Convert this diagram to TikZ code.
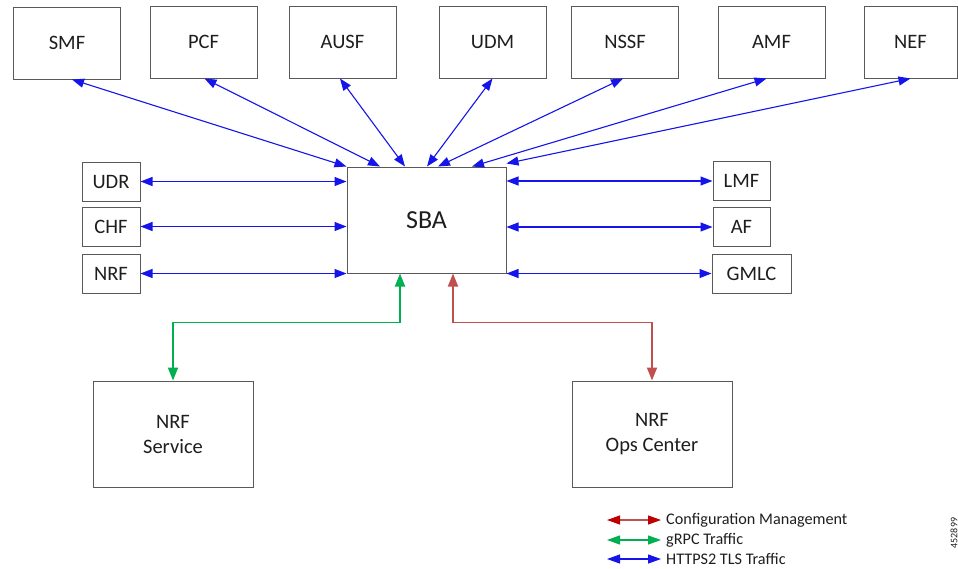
\documentclass[tikz,border=0pt]{standalone}
\usepackage{fontspec}
\setmainfont{Carlito}
\usetikzlibrary{arrows.meta}
\definecolor{boxline}{RGB}{89,89,89}
\definecolor{https}{RGB}{20,20,235}
\definecolor{grpc}{RGB}{0,176,80}
\definecolor{cfg}{RGB}{192,80,77}
\definecolor{cfgtip}{RGB}{192,0,0}
\definecolor{ink}{RGB}{30,30,30}

\begin{document}
\begin{tikzpicture}[x=1pt,y=-1pt,
  nf/.style={draw=boxline, line width=1pt, fill=white, inner sep=0pt,
    text=ink, font=\fontsize{20.5}{25}\selectfont, align=center},
  topnf/.style={nf, minimum width=107pt, minimum height=72pt},
  sidenf/.style={nf, minimum width=58pt, minimum height=39pt},
  bignf/.style={nf, minimum width=160pt, minimum height=106pt},
  httpsarrow/.style={draw=https, line width=1.1pt,
    {Triangle[length=12pt,width=9pt,fill=https]}-{Triangle[length=12pt,width=9pt,fill=https]}},
  grpcarrow/.style={draw=grpc, line width=1.8pt,
    {Triangle[length=13pt,width=10pt,fill=grpc]}-{Triangle[length=13pt,width=10pt,fill=grpc]}},
  cfgarrow/.style={draw=cfg, line width=1.8pt,
    {Triangle[length=13pt,width=10pt,fill=cfg]}-{Triangle[length=13pt,width=10pt,fill=cfg]}},
  legarrow/.style={line width=1.2pt},
  legtext/.style={anchor=west, inner sep=0pt, text=ink, font=\fontsize{16.2}{18}\selectfont}
]
\useasboundingbox (0,0) rectangle (958,568);

% network functions along the top
\node[topnf] (smf)  at (67,43)    {SMF};
\node[topnf] (pcf)  at (203.5,42) {PCF};
\node[topnf] (ausf) at (342.5,42) {AUSF};
\node[topnf] (udm)  at (492.5,42) {UDM};
\node[topnf] (nssf) at (625,42)   {NSSF};
\node[topnf] (amf)  at (771.5,42) {AMF};
\node[topnf, minimum width=93pt] (nef) at (910.5,42) {NEF};

% central service based architecture bus
\node[bignf, minimum width=159pt, font=\fontsize{26}{30}\selectfont] (sba) at (426.5,220) {SBA};

% functions on the left
\node[sidenf] (udr) at (111,181.5) {UDR};
\node[sidenf] (chf) at (111,226.5) {CHF};
\node[sidenf] (nrf) at (111,273.5) {NRF};

% functions on the right
\node[sidenf, minimum width=57pt] (lmf) at (741.5,181) {LMF};
\node[sidenf, minimum width=57pt] (af)  at (741.5,227) {AF};
\node[sidenf, minimum width=79pt] (gmlc) at (751.5,273.5) {GMLC};

% NRF components
\node[bignf] (svc) at (173,434) {NRF\\Service};
\node[bignf] (ops) at (652,434) {NRF\\Ops Center};

% HTTPS2 links from the top row
\draw[httpsarrow] ([xshift=5pt]smf.south)   -- (sba.north west);
\draw[httpsarrow] ([xshift=1pt]pcf.south)   -- ([xshift=-46.5pt]sba.north);
\draw[httpsarrow] ([xshift=-2.5pt]ausf.south) -- ([xshift=-21.5pt]sba.north);
\draw[httpsarrow] (udm.south)               -- ([xshift=0.5pt]sba.north);
\draw[httpsarrow] ([xshift=-2pt]nssf.south) -- ([xshift=11.5pt]sba.north);
\draw[httpsarrow] ([xshift=-5pt]amf.south)  -- ([xshift=45.5pt]sba.north);
\draw[httpsarrow] (nef.south)               -- ([yshift=3pt]sba.north east);

% HTTPS2 links at the sides
\draw[httpsarrow] (udr.east) -- (udr.east -| sba.west);
\draw[httpsarrow] (chf.east) -- (chf.east -| sba.west);
\draw[httpsarrow] (nrf.east |- sba.south) -- (sba.south west);
\draw[httpsarrow] (lmf.west -| sba.east) -- (lmf.west);
\draw[httpsarrow] (af.west -| sba.east) -- (af.west);
\draw[httpsarrow] (sba.south east) -- (gmlc.west |- sba.south);

% gRPC and configuration management links
\draw[grpcarrow] ([xshift=-26.5pt]sba.south) -- ++(0,49) -| (svc.north);
\draw[cfgarrow]  ([xshift=26.5pt]sba.south)  -- ++(0,49) -| (ops.north);

% legend
\coordinate (l1a) at (607,520); \coordinate (l1b) at (661,520);
\coordinate (l2a) at (607,540); \coordinate (l2b) at (661,540);
\coordinate (l3a) at (607,559); \coordinate (l3b) at (661,559);
\draw[legarrow, draw=cfg,
  {Triangle[length=13pt,width=9pt,color=cfgtip]}-{Triangle[length=13pt,width=9pt,color=cfgtip]}] (l1a) -- (l1b);
\draw[legarrow, draw=grpc,
  {Triangle[length=13pt,width=9pt,fill=grpc]}-{Triangle[length=13pt,width=9pt,fill=grpc]}] (l2a) -- (l2b);
\draw[legarrow, draw=https,
  {Triangle[length=13pt,width=9pt,fill=https]}-{Triangle[length=13pt,width=9pt,fill=https]}] (l3a) -- (l3b);
\node[legtext] (t1) at (666,520) {Configuration Management};
\node[legtext] (t2) at (666,540) {gRPC Traffic};
\node[legtext] (t3) at (666,559) {HTTPS2 TLS Traffic};

% figure number
\node[rotate=90, inner sep=0pt, text=ink, font=\fontsize{10}{11}\selectfont] (fig) at (954,533) {452899};
\end{tikzpicture}
\end{document}
